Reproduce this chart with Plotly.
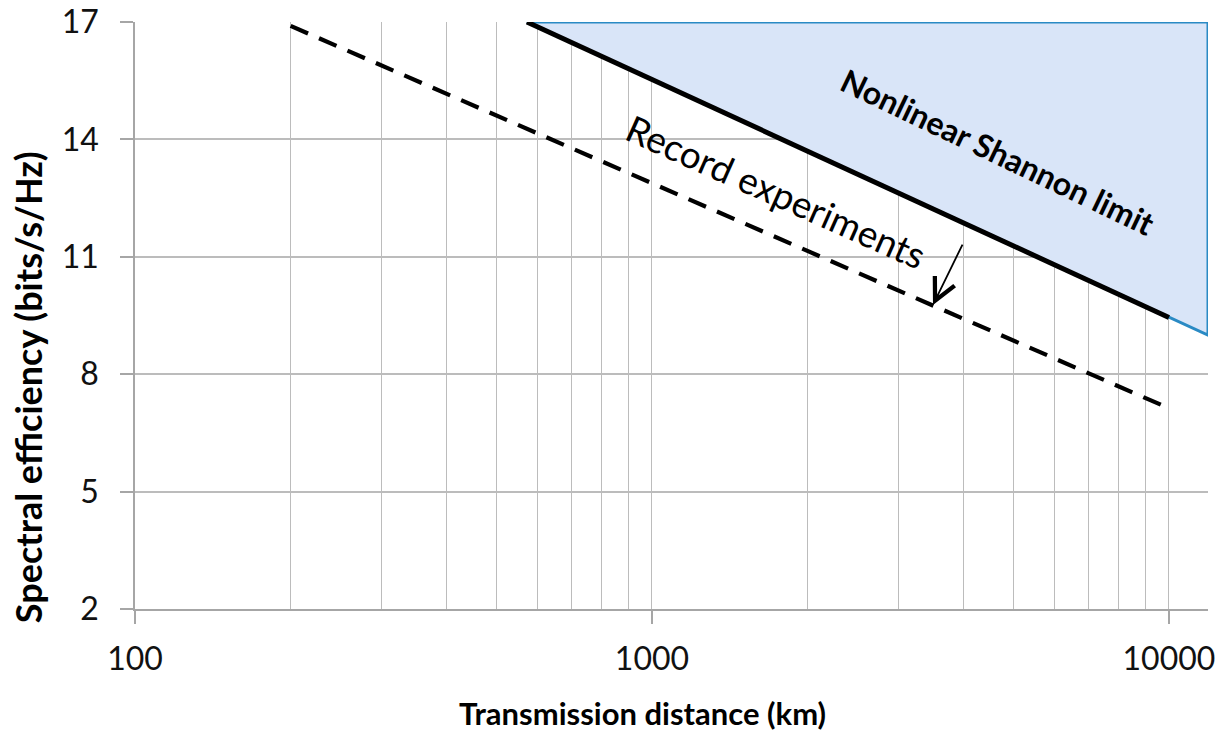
import math
import plotly.graph_objects as go

# ---- data ----
shannon_km = [573, 10000]
shannon_se = [17.0, 9.45]

limit_region_km = [573, 11900, 11900, 573]
limit_region_se = [17.0, 9.0, 17.0, 17.0]

record_km = [200, 10000]
record_se = [16.9, 7.13]

x_tick_vals = [100, 1000, 10000]
x_tick_text = ["100", "1000", "10000"]
x_minor_vals = [200, 300, 400, 500, 600, 700, 800, 900,
                2000, 3000, 4000, 5000, 6000, 7000, 8000, 9000]
y_tick_vals = [2, 5, 8, 11, 14, 17]

FONT = "Lato"
GRID = "#bcbcbc"
AXIS = "#a6a6a6"

fig = go.Figure()

fig.add_trace(go.Scatter(
    x=limit_region_km, y=limit_region_se, mode="lines",
    fill="toself", fillcolor="#d9e5f8",
    line=dict(color="#2a8ac4", width=3),
    cliponaxis=False,
    hoverinfo="skip", showlegend=False))

fig.add_trace(go.Scatter(
    x=shannon_km, y=shannon_se, mode="lines",
    line=dict(color="black", width=5),
    showlegend=False))

fig.add_trace(go.Scatter(
    x=record_km, y=record_se, mode="lines",
    line=dict(color="black", width=4.2, dash="19px,12px"),
    showlegend=False))

L = math.log10
fig.add_annotation(x=L(4667), y=13.70, xref="x", yref="y",
                   text="<b>Nonlinear Shannon limit</b>", showarrow=False,
                   textangle=25.5, font=dict(family=FONT, size=32, color="black"))
fig.add_annotation(x=L(1745), y=12.68, xref="x", yref="y",
                   text="Record experiments", showarrow=False,
                   textangle=24, font=dict(family=FONT, size=37, color="black"))
fig.add_annotation(x=L(3496), y=9.77, xref="x", yref="y",
                   ax=L(4000), ay=11.35, axref="x", ayref="y",
                   text="", showarrow=True, arrowhead=5, arrowsize=2.4,
                   arrowwidth=1.8, arrowcolor="black")

# axis titles (placed as in the reference, slightly off-centre)
fig.add_annotation(x=0.4734, y=-0.177, xref="paper", yref="paper",
                   text="<b>Transmission distance (km)</b>", showarrow=False,
                   xanchor="center", yanchor="middle",
                   font=dict(family=FONT, size=31, color="black"))
fig.add_annotation(x=-0.0997, y=0.378, xref="paper", yref="paper",
                   text="<b>Spectral efficiency (bits/s/Hz)</b>", showarrow=False,
                   textangle=-90, xanchor="center", yanchor="middle",
                   font=dict(family=FONT, size=36, color="black"))

fig.update_xaxes(
    type="log", range=[L(100), L(11900)], automargin=False,
    tickvals=x_tick_vals, ticktext=x_tick_text,
    showgrid=True, gridcolor=GRID, gridwidth=1.2,
    minor=dict(tickvals=x_minor_vals, showgrid=True, gridcolor=GRID, gridwidth=1.2, ticks=""),
    showline=True, linecolor=AXIS, linewidth=1.5,
    ticks="outside", ticklen=13, tickcolor=AXIS, tickwidth=1.5,
    ticklabelstandoff=8, ticklabeloverflow="allow",
    tickfont=dict(family=FONT, size=32, color="#111111"),
    zeroline=False)

fig.update_yaxes(
    range=[2, 17], tickvals=y_tick_vals, automargin=False,
    showgrid=True, gridcolor=GRID, gridwidth=1.5,
    showline=True, linecolor=AXIS, linewidth=1.5,
    ticks="outside", ticklen=13, tickcolor=AXIS, tickwidth=1.5,
    ticklabelstandoff=15, ticklabeloverflow="allow",
    tickfont=dict(family=FONT, size=32, color="#111111"),
    zeroline=False)

fig.update_layout(
    width=1220, height=736,
    margin=dict(l=135, r=12, t=22, b=127),
    paper_bgcolor="white", plot_bgcolor="white",
    showlegend=False)

# remove the page's default body margin so the figure fills the window exactly
fig.write_html(
    "out.html",
    config={"displayModeBar": False},
    post_script=("document.body.style.margin='0';"
                 "document.body.style.overflow='hidden';"
                 "document.documentElement.style.overflow='hidden';"))
